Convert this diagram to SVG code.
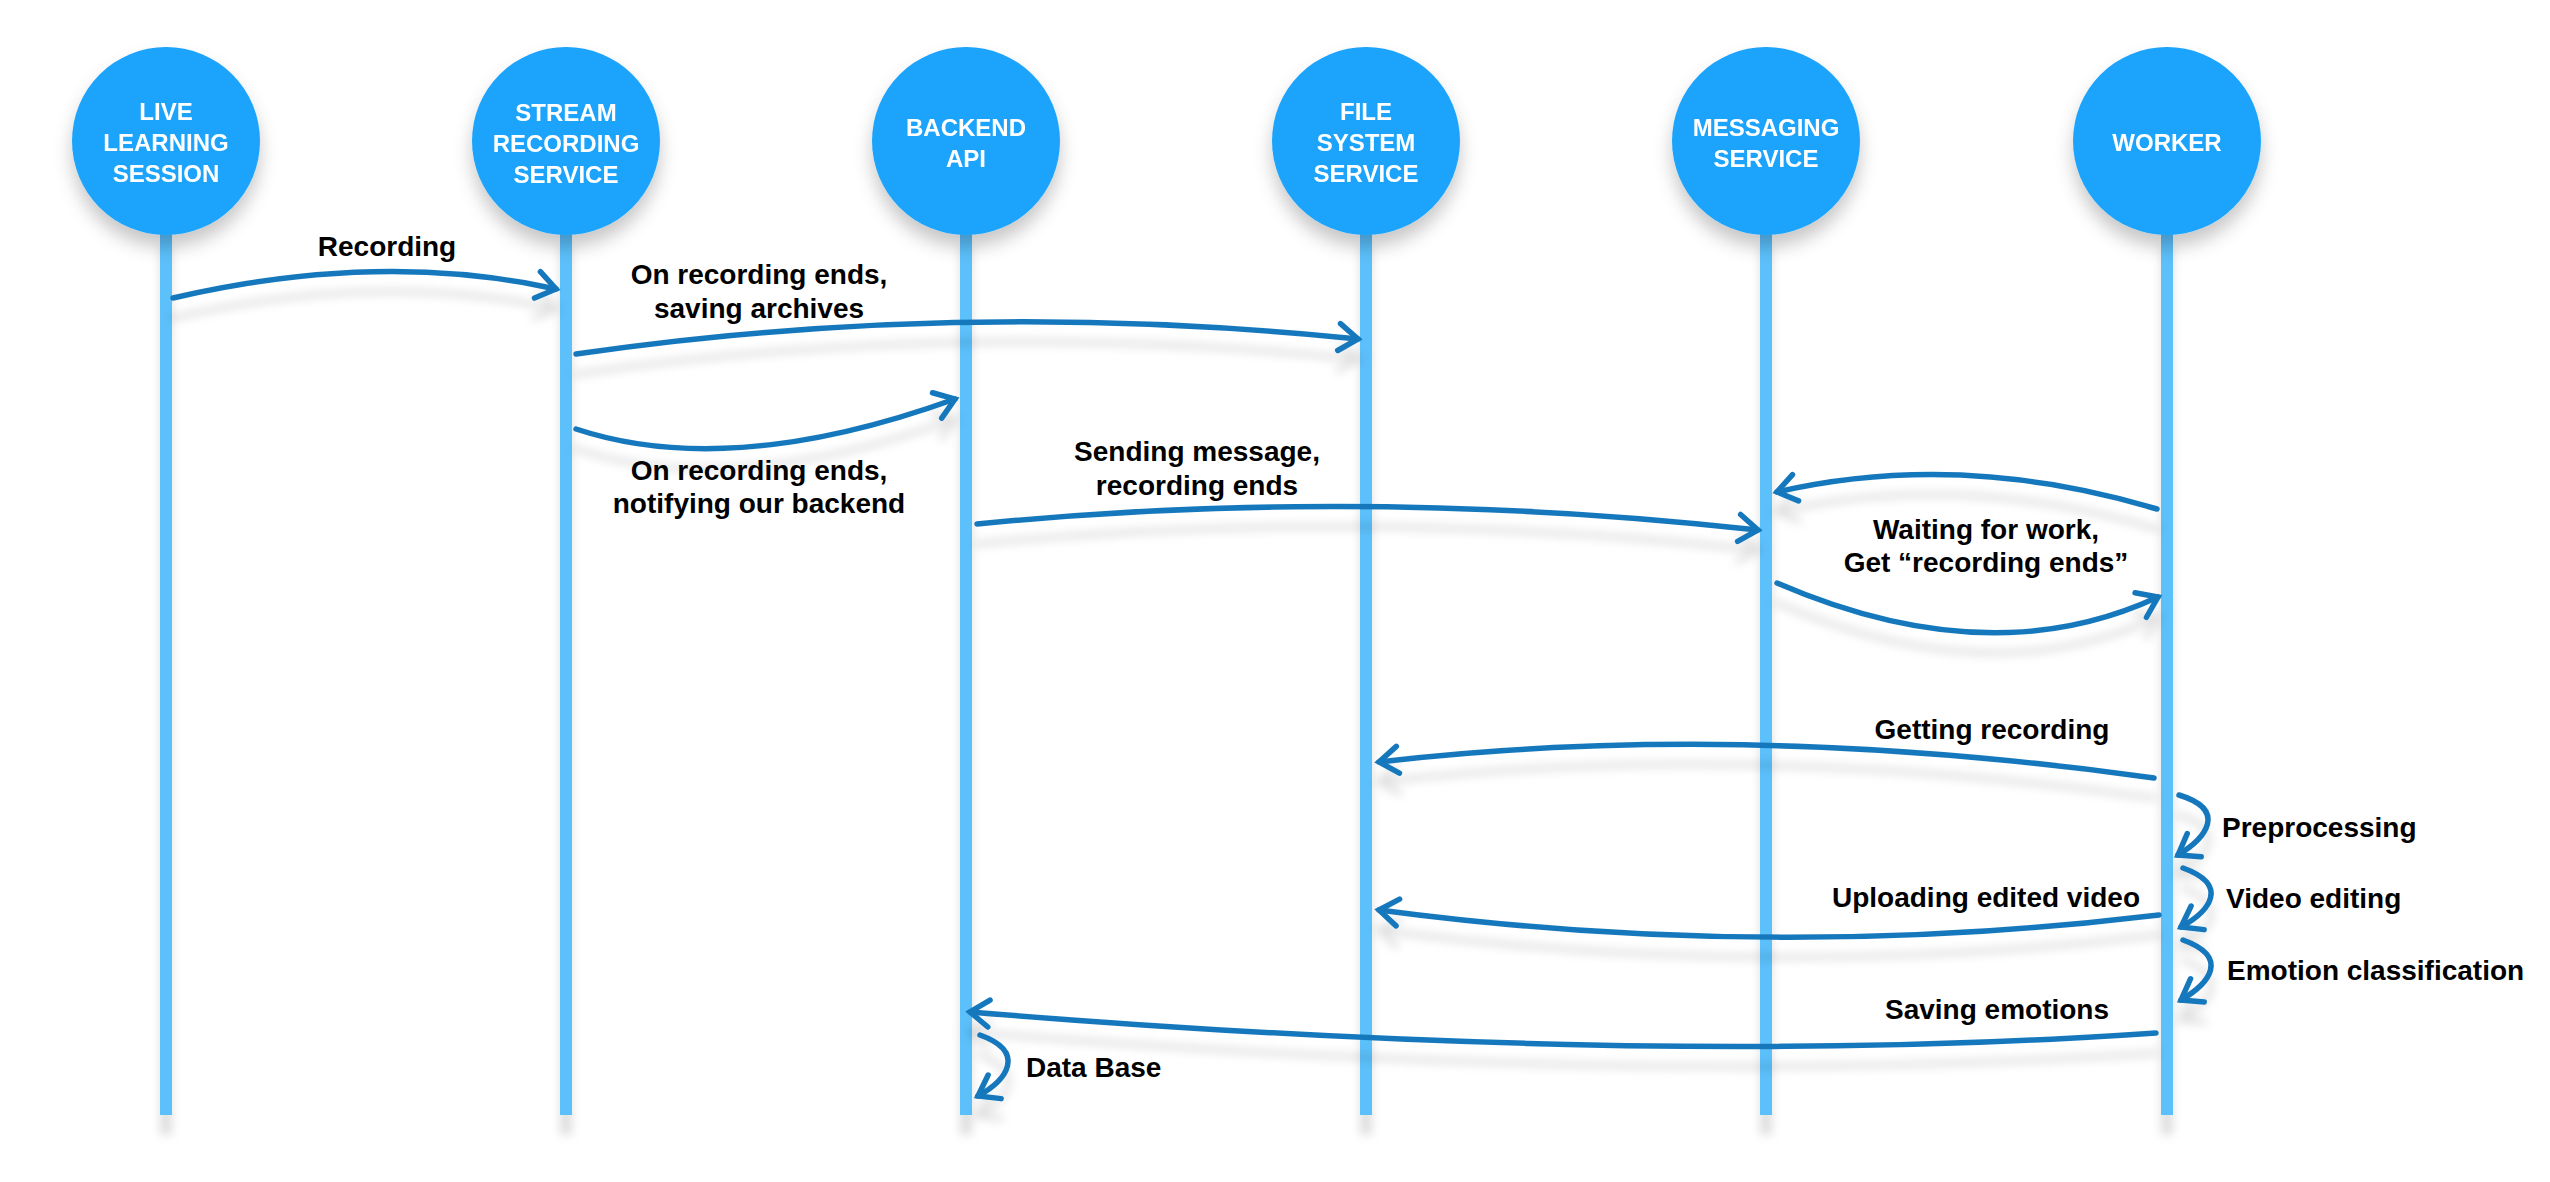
<svg xmlns="http://www.w3.org/2000/svg" width="2550" height="1182" viewBox="0 0 2550 1182">
<defs>
<style>
.node-c{fill:#1FA4FC}
.life{fill:#5CC0FB}
.nt{font-family:"Liberation Sans",Arial,sans-serif;font-weight:bold;font-size:24px;fill:#fff;text-anchor:middle}
.lbl{font-family:"Liberation Sans",Arial,sans-serif;font-weight:bold;font-size:28px;fill:#000}
.mid{text-anchor:middle}
.conn{fill:none;stroke:#1878BC;stroke-width:5.5;stroke-linecap:round;marker-end:url(#arr)}
</style>
<filter id="shNode" filterUnits="userSpaceOnUse" x="0" y="0" width="2550" height="1182">
<feDropShadow dx="0" dy="12" stdDeviation="9" flood-color="#000" flood-opacity="0.22"/>
</filter>
<filter id="shLine" filterUnits="userSpaceOnUse" x="0" y="0" width="2550" height="1182">
<feDropShadow dx="0" dy="20" stdDeviation="5" flood-color="#000" flood-opacity="0.13"/>
</filter>
<marker id="arr" markerUnits="userSpaceOnUse" viewBox="-30 -20 40 40" refX="0" refY="0" markerWidth="40" markerHeight="40" orient="auto" overflow="visible">
<path d="M -19 -13.5 L 0 0 L -19 13.5" fill="none" stroke="#1878BC" stroke-width="5.5" stroke-linecap="round" stroke-linejoin="miter"/>
</marker>
</defs>
<rect width="2550" height="1182" fill="#fff"/>

<g id="lifelines" filter="url(#shLine)">
<rect class="life" x="160" y="225" width="12" height="890"/>
<rect class="life" x="560" y="225" width="12" height="890"/>
<rect class="life" x="960" y="225" width="12" height="890"/>
<rect class="life" x="1360" y="225" width="12" height="890"/>
<rect class="life" x="1760" y="225" width="12" height="890"/>
<rect class="life" x="2161" y="225" width="12" height="890"/>
</g>

<g id="node-live" filter="url(#shNode)">
<circle class="node-c" cx="166" cy="141" r="94"/>
<text class="nt" x="166" y="120">LIVE</text>
<text class="nt" x="166" y="151">LEARNING</text>
<text class="nt" x="166" y="182">SESSION</text>
</g>
<g id="node-stream" filter="url(#shNode)">
<circle class="node-c" cx="566" cy="141" r="94"/>
<text class="nt" x="566" y="121">STREAM</text>
<text class="nt" x="566" y="152">RECORDING</text>
<text class="nt" x="566" y="183">SERVICE</text>
</g>
<g id="node-backend" filter="url(#shNode)">
<circle class="node-c" cx="966" cy="141" r="94"/>
<text class="nt" x="966" y="136">BACKEND</text>
<text class="nt" x="966" y="167">API</text>
</g>
<g id="node-files" filter="url(#shNode)">
<circle class="node-c" cx="1366" cy="141" r="94"/>
<text class="nt" x="1366" y="120">FILE</text>
<text class="nt" x="1366" y="151">SYSTEM</text>
<text class="nt" x="1366" y="182">SERVICE</text>
</g>
<g id="node-messaging" filter="url(#shNode)">
<circle class="node-c" cx="1766" cy="141" r="94"/>
<text class="nt" x="1766" y="136">MESSAGING</text>
<text class="nt" x="1766" y="167">SERVICE</text>
</g>
<g id="node-worker" filter="url(#shNode)">
<circle class="node-c" cx="2167" cy="141" r="94"/>
<text class="nt" x="2167" y="151">WORKER</text>
</g>

<g id="connectors" filter="url(#shLine)">
<path class="conn" d="M 173 298 Q 380 250 556 289"/>
<path class="conn" d="M 576 354 Q 960 298 1358 339"/>
<path class="conn" d="M 576 429 Q 730 480 955 399"/>
<path class="conn" d="M 977 524 Q 1360 486 1758 530"/>
<path class="conn" d="M 2157 509 Q 1960 450 1777 492"/>
<path class="conn" d="M 1777 583 Q 1990 675 2158 597"/>
<path class="conn" d="M 2154 778 Q 1740 720 1379 762"/>
<path class="conn" d="M 2159 915 Q 1770 962 1379 910"/>
<path class="conn" d="M 2156 1033 Q 1650 1068 970 1012"/>
<path class="conn" d="M 2179 795 C 2228 810 2206 838 2178 855"/>
<path class="conn" d="M 2183 868 C 2230 885 2210 911 2181 927"/>
<path class="conn" d="M 2183 940 C 2230 957 2210 983 2181 1000"/>
<path class="conn" d="M 980 1035 C 1027 1052 1007 1080 978 1096"/>
</g>

<g id="labels">
<text class="lbl mid" x="387" y="256">Recording</text>
<text class="lbl mid" x="759" y="284">On recording ends,</text>
<text class="lbl mid" x="759" y="318">saving archives</text>
<text class="lbl mid" x="759" y="480">On recording ends,</text>
<text class="lbl mid" x="759" y="513">notifying our backend</text>
<text class="lbl mid" x="1197" y="461">Sending message,</text>
<text class="lbl mid" x="1197" y="495">recording ends</text>
<text class="lbl mid" x="1986" y="539">Waiting for work,</text>
<text class="lbl mid" x="1986" y="572">Get “recording ends”</text>
<text class="lbl mid" x="1992" y="739">Getting recording</text>
<text class="lbl mid" x="1986" y="907">Uploading edited video</text>
<text class="lbl mid" x="1997" y="1019">Saving emotions</text>
<text class="lbl" x="2222" y="837">Preprocessing</text>
<text class="lbl" x="2226" y="908">Video editing</text>
<text class="lbl" x="2227" y="980">Emotion classification</text>
<text class="lbl" x="1026" y="1077">Data Base</text>
</g>
</svg>
